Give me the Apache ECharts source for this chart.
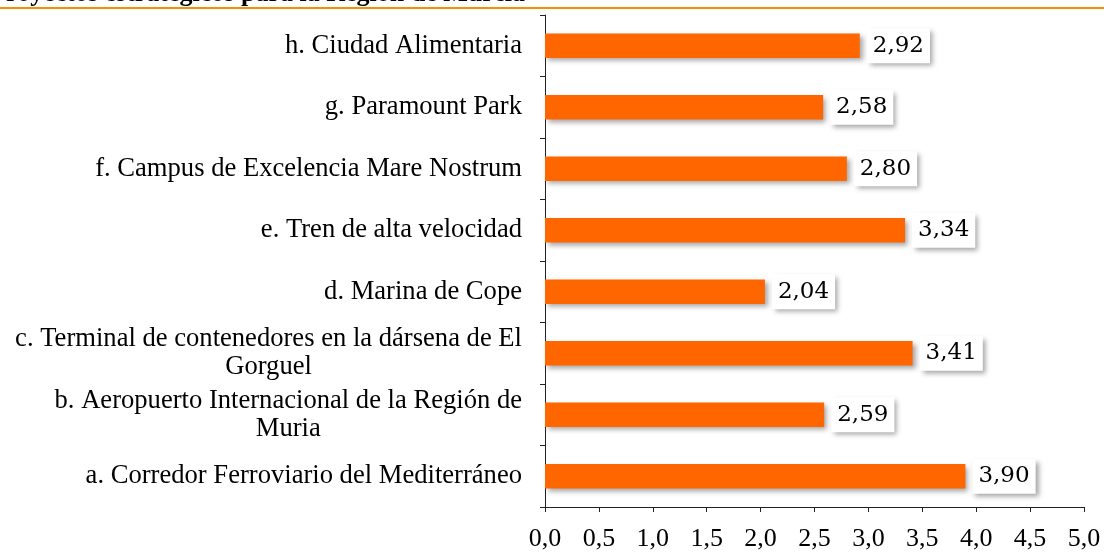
<!DOCTYPE html>
<html>
<head>
<meta charset="utf-8">
<script src="https://cdn.jsdelivr.net/npm/echarts@6/dist/echarts.min.js"></script>
<style>
  html, body { margin: 0; padding: 0; background: #fff; }
  #chart { width: 1104px; height: 552px; }
</style>
</head>
<body>
<div id="chart"></div>
<script>
// categories, bottom to top
const categories = [
  "a. Corredor Ferroviario del Mediterráneo",
  "b. Aeropuerto Internacional de la Región de\nMuria",
  "c. Terminal de contenedores en la dársena de El\nGorguel",
  "d. Marina de Cope",
  "e. Tren de alta velocidad",
  "f. Campus de Excelencia Mare Nostrum",
  "g. Paramount Park",
  "h. Ciudad Alimentaria"
];
const values = [3.90, 2.59, 3.41, 2.04, 3.34, 2.80, 2.58, 2.92];
const xTicks = [0, 0.5, 1, 1.5, 2, 2.5, 3, 3.5, 4, 4.5, 5];
const titleText = "Proyectos estratégicos para la Región de Murcia";

const fmt = v => v.toFixed(1).replace(".", ",");

let chart = echarts.init(document.getElementById("chart"));
let option = {
  animation: false,
  backgroundColor: "#fff",
  graphic: [
    {
      type: "text",
      right: 1104 - 525,
      top: -19,
      style: {
        text: titleText,
        font: "bold 26px 'Liberation Serif'",
        fill: "#000"
      }
    },
    {
      type: "rect",
      left: 0,
      top: 7,
      shape: { width: 1104, height: 2 },
      style: { fill: "#f39200" }
    }
  ],
  grid: { left: 545, right: 20, top: 15, bottom: 42 },
  xAxis: {
    type: "value",
    min: 0,
    max: 5,
    interval: 0.5,
    axisLine: { show: true, lineStyle: { color: "#222", width: 1 } },
    axisTick: { show: true, length: 5, lineStyle: { color: "#222" } },
    splitLine: { show: false },
    axisLabel: {
      margin: 19,
      color: "#000",
      fontFamily: "Liberation Serif",
      fontSize: 26,
      formatter: v => (xTicks.includes(v) ? fmt(v) : "")
    }
  },
  yAxis: {
    type: "category",
    data: categories,
    axisLine: { show: true, lineStyle: { color: "#222", width: 1 } },
    axisTick: { show: true, length: 5, lineStyle: { color: "#222" } },
    axisLabel: {
      margin: 23,
      color: "#000",
      align: "right",
      formatter: v => v.split("\n").map(s => "{c|" + s + "}").join("\n"),
      rich: {
        c: {
          align: "center",
          fontFamily: "Liberation Serif",
          fontSize: 26.6,
          lineHeight: 28,
          color: "#000"
        }
      }
    }
  },
  series: [
    {
      type: "bar",
      data: values,
      barWidth: "40%",
      itemStyle: {
        color: "#ff6600",
        shadowColor: "rgba(0,0,0,0.35)",
        shadowBlur: 5,
        shadowOffsetX: 3,
        shadowOffsetY: 3
      },
      label: {
        show: true,
        position: "right",
        distance: 7,
        formatter: p => p.value.toFixed(2).replace(".", ","),
        fontFamily: "DejaVu Serif",
        fontSize: 23,
        lineHeight: 25,
        color: "#000",
        backgroundColor: "#fff",
        padding: [5, 6, 5, 6],
        shadowColor: "rgba(0,0,0,0.35)",
        shadowBlur: 5,
        shadowOffsetX: 3,
        shadowOffsetY: 3
      }
    }
  ]
};
chart.setOption(option);
</script>
</body>
</html>
